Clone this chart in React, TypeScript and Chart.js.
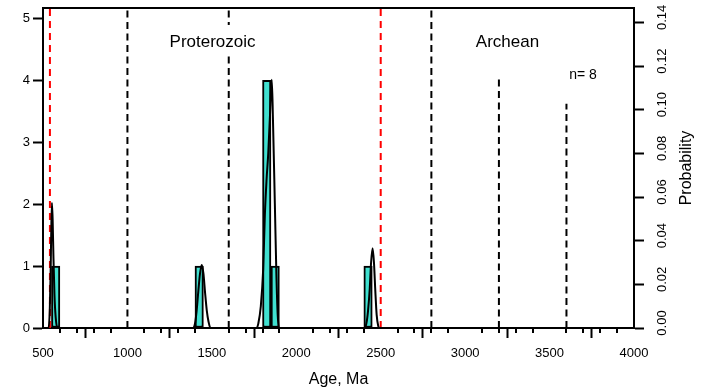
import React, { useEffect, useRef } from 'react';
import { Chart, registerables } from 'chart.js';

Chart.register(...registerables);

// ---- data ----
const binStarts = [550, 1400, 1800, 1850, 2400];
const binCounts = [1, 1, 4, 1, 1];
const binWidth = 50;

const pdpAges = [
  500, 533, 540, 545, 549, 553, 557, 562, 568, 575, 585,
  1390, 1400, 1410, 1420, 1430, 1440, 1450, 1460, 1470, 1480, 1492,
  1765, 1775, 1790, 1804, 1814, 1824, 1834, 1844, 1850, 1855, 1862, 1873, 1882, 1890, 1898,
  2405, 2415, 2425, 2435, 2443, 2452, 2460, 2468, 2476, 2485, 2492,
  4000,
];
const pdpProb = [
  0, 0, 0.008, 0.025, 0.045, 0.0573, 0.05, 0.032, 0.015, 0.005, 0,
  0, 0.002, 0.008, 0.017, 0.025, 0.0289, 0.025, 0.016, 0.008, 0.003, 0,
  0, 0.002, 0.01, 0.027, 0.052, 0.068, 0.08, 0.097, 0.109, 0.1137, 0.095, 0.057, 0.025, 0.006, 0,
  0, 0.002, 0.008, 0.018, 0.03, 0.0365, 0.03, 0.017, 0.006, 0.001, 0,
  0,
];

const xMajorTicks = [500, 1000, 1500, 2000, 2500, 3000, 3500, 4000];
const xMinorTicks = [
  600, 700, 800, 900, 1100, 1200, 1300, 1400, 1600, 1700, 1800, 1900,
  2100, 2200, 2300, 2400, 2600, 2700, 2800, 2900, 3100, 3200, 3300, 3400,
  3600, 3700, 3800, 3900,
];
const countTicks = [0, 1, 2, 3, 4, 5];
const probTicks = [0, 0.02, 0.04, 0.06, 0.08, 0.1, 0.12, 0.14];
const probTickLabels = ['0.00', '0.02', '0.04', '0.06', '0.08', '0.10', '0.12', '0.14'];

const xMin = 500;
const xMax = 4000;
const countMax = 5.166;
const probMax = 0.1466;

const blackLineAges = [1000, 1600, 2800, 3200, 3600];
const blackLineTops = [5.166, 5.166, 5.166, 4.05, 3.62];
const redLineAges = [541, 2500];

const labelTexts = ['Proterozoic', 'Archean', 'n= 8'];
const labelAges = [1504, 3251, 3698];
const labelCounts = [4.537, 4.537, 4.02];
const labelSizes = [17, 17, 14];

const xTitle = 'Age, Ma';
const yRightTitle = 'Probability';

const FONT = '"Liberation Sans", Arial, Helvetica, sans-serif';

const overlayPlugin = {
  id: 'overlay',
  afterDatasetsDraw(chart: any) {
    const { ctx, chartArea, scales } = chart;
    const xs = scales.x;
    const yL = scales.yL;
    const yR = scales.yR;
    ctx.save();
    // text annotations
    labelTexts.forEach((t, i) => {
      const cx = xs.getPixelForValue(labelAges[i]);
      const by = yL.getPixelForValue(labelCounts[i]);
      ctx.font = `${labelSizes[i]}px ${FONT}`;
      const w = ctx.measureText(t).width;
      if (i === 0) {
        ctx.fillStyle = '#fff';
        ctx.fillRect(cx - w / 2 - 3, by - 22, w + 6, 28);
      }
      ctx.fillStyle = '#000';
      ctx.textAlign = 'center';
      ctx.textBaseline = 'alphabetic';
      ctx.fillText(t, cx, by);
    });
    // top frame line
    ctx.strokeStyle = '#000';
    ctx.lineWidth = 2;
    ctx.beginPath();
    ctx.moveTo(chartArea.left - 1, chartArea.top);
    ctx.lineTo(chartArea.right + 1, chartArea.top);
    ctx.stroke();
    // minor x ticks
    ctx.lineWidth = 2;
    ctx.beginPath();
    xMinorTicks.forEach((v) => {
      const px = Math.round(xs.getPixelForValue(v));
      ctx.moveTo(px, chartArea.bottom);
      ctx.lineTo(px, chartArea.bottom + 5);
    });
    ctx.stroke();
    // right tick labels (rotated)
    ctx.fillStyle = '#000';
    ctx.font = `13px ${FONT}`;
    ctx.textAlign = 'center';
    ctx.textBaseline = 'middle';
    probTicks.forEach((v, i) => {
      const py = yR.getPixelForValue(v) - 5;
      ctx.save();
      ctx.translate(662.5, py);
      ctx.rotate(-Math.PI / 2);
      ctx.fillText(probTickLabels[i], 0, 0);
      ctx.restore();
    });
    // right title
    ctx.font = `16px ${FONT}`;
    ctx.save();
    ctx.translate(687, (chartArea.top + chartArea.bottom) / 2);
    ctx.rotate(-Math.PI / 2);
    ctx.fillText(yRightTitle, 0, 0);
    ctx.restore();
    // bottom title
    ctx.textBaseline = 'alphabetic';
    ctx.fillText(xTitle, (chartArea.left + chartArea.right) / 2, 384);
    ctx.restore();
  },
};

export default function App() {
  const ref = useRef<HTMLCanvasElement | null>(null);

  useEffect(() => {
    if (!ref.current) return;
    Chart.defaults.font.family = FONT;

    const barData = binStarts.map((s, i) => ({ x: s + binWidth / 2, y: binCounts[i] }));
    const pdpData = pdpAges.map((a, i) => ({ x: a, y: pdpProb[i] }));

    const dashed: any[] = [];
    blackLineAges.forEach((a, i) => {
      dashed.push({
        type: 'line',
        data: [{ x: a, y: 0 }, { x: a, y: blackLineTops[i] }],
        borderColor: '#000',
        borderWidth: 2,
        borderDash: [7, 4.5],
        pointRadius: 0,
        yAxisID: 'yL',
        order: 3,
      });
    });
    redLineAges.forEach((a) => {
      dashed.push({
        type: 'line',
        data: [{ x: a, y: 0 }, { x: a, y: countMax }],
        borderColor: '#ff0000',
        borderWidth: 2,
        borderDash: [7, 5],
        pointRadius: 0,
        yAxisID: 'yL',
        order: 3,
      });
    });

    const chart = new Chart(ref.current, {
      type: 'bar',
      data: {
        datasets: [
          {
            type: 'line',
            data: pdpData,
            borderColor: '#000',
            borderWidth: 2,
            pointRadius: 0,
            cubicInterpolationMode: 'monotone',
            fill: false,
            yAxisID: 'yR',
            order: 0,
          } as any,
          {
            type: 'bar',
            data: barData,
            backgroundColor: '#40E0D0',
            borderColor: '#000',
            borderWidth: 2,
            borderSkipped: false,
            barPercentage: 1,
            categoryPercentage: 1,
            yAxisID: 'yL',
            order: 1,
          } as any,
          ...dashed,
        ],
      },
      options: {
        animation: false,
        responsive: false,
        maintainAspectRatio: false,
        layout: { padding: { top: 8, left: 0, right: 0, bottom: 0 } },
        plugins: { legend: { display: false }, tooltip: { enabled: false } },
        scales: {
          x: {
            type: 'linear',
            position: 'bottom',
            min: xMin,
            max: xMax,
            offset: false,
            afterBuildTicks: (s: any) => {
              s.ticks = xMajorTicks.map((v) => ({ value: v }));
            },
            afterFit: (s: any) => {
              s.height = 64;
              s.paddingLeft = 0;
              s.paddingRight = 0;
            },
            ticks: {
              callback: (v: any) => String(v),
              color: '#000',
              font: { size: 13, family: FONT },
              padding: 8,
              maxRotation: 0,
              minRotation: 0,
              autoSkip: false,
            },
            grid: {
              display: true,
              drawOnChartArea: false,
              drawTicks: true,
              tickLength: 10,
              tickWidth: 2,
              tickColor: '#000',
            },
            border: { display: true, color: '#000', width: 2 },
          },
          yL: {
            type: 'linear',
            position: 'left',
            min: 0,
            max: countMax,
            afterBuildTicks: (s: any) => {
              s.ticks = countTicks.map((v) => ({ value: v }));
            },
            afterFit: (s: any) => {
              s.width = 43;
              s.paddingTop = 0;
              s.paddingBottom = 0;
            },
            ticks: {
              callback: (v: any) => String(v),
              color: '#000',
              font: { size: 13, family: FONT },
              padding: 3,
            },
            grid: {
              display: true,
              drawOnChartArea: false,
              drawTicks: true,
              tickLength: 10,
              tickWidth: 2,
              tickColor: '#000',
            },
            border: { display: true, color: '#000', width: 2 },
          },
          yR: {
            type: 'linear',
            position: 'right',
            min: 0,
            max: probMax,
            afterBuildTicks: (s: any) => {
              s.ticks = probTicks.map((v) => ({ value: v }));
            },
            afterFit: (s: any) => {
              s.width = 70;
              s.paddingTop = 0;
              s.paddingBottom = 0;
            },
            ticks: { display: false },
            grid: {
              display: true,
              drawOnChartArea: false,
              drawTicks: true,
              tickLength: 10,
              tickWidth: 2,
              tickColor: '#000',
            },
            border: { display: true, color: '#000', width: 2 },
          },
        },
      } as any,
      plugins: [overlayPlugin],
    });

    return () => chart.destroy();
  }, []);

  return (
    <div style={{ position: 'absolute', left: 0, top: 0, width: 704, height: 392, background: '#fff' }}>
      <canvas ref={ref} width={704} height={392} style={{ display: 'block', width: 704, height: 392 }} />
    </div>
  );
}
